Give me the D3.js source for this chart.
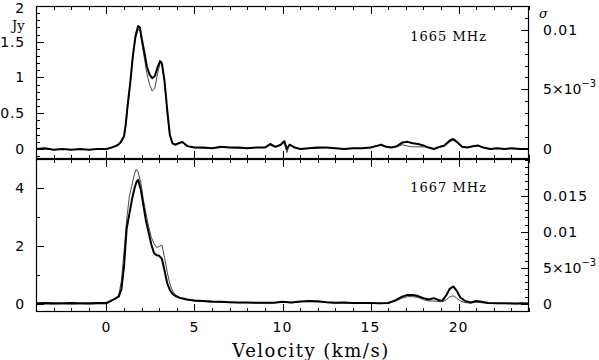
<!DOCTYPE html>
<html><head><meta charset="utf-8">
<script src="https://cdn.jsdelivr.net/npm/d3@7"></script>
<style>body{margin:0;background:#fff}svg{display:block}</style>
</head><body>
<svg id="c" width="599" height="360"></svg>
<script>
// ---- data ----
const velocity1665 = [-4,-3.5,-3,-2.5,-2,-1.5,-1,-0.5,0,0.3,0.6,0.8,1.0,1.1,1.2,1.35,1.5,1.65,1.8,1.9,2.0,2.15,2.3,2.45,2.6,2.75,2.9,3.05,3.15,3.3,3.45,3.6,3.75,3.9,4.1,4.3,4.6,5,5.5,6,6.5,7,7.5,8,8.5,9,9.3,9.6,9.9,10.1,10.25,10.4,10.7,11,11.5,12,12.5,13,13.5,14,14.5,15,15.3,15.6,15.9,16.2,16.5,16.8,17.1,17.4,17.7,18.0,18.3,18.6,18.9,19.2,19.5,19.7,19.9,20.2,20.5,20.8,21.1,21.4,21.8,22.2,22.6,23,23.5,24];
const thick1665 = [0.0,0.01,-0.01,0.0,-0.01,0.0,-0.01,0.0,0.0,0.02,0.05,0.09,0.18,0.35,0.6,0.92,1.3,1.58,1.72,1.70,1.55,1.36,1.15,1.04,0.99,1.02,1.14,1.23,1.2,0.95,0.55,0.2,0.08,0.06,0.08,0.1,0.04,0.02,0.02,0.01,0.03,0.02,0.02,0.01,0.02,0.02,0.07,0.03,0.06,0.11,0.0,0.06,0.02,0.0,0.01,0.02,0.02,0.01,0.0,0.01,0.01,0.02,0.04,0.06,0.03,0.02,0.04,0.09,0.1,0.08,0.07,0.05,0.02,0.0,0.03,0.05,0.12,0.14,0.1,0.03,0.02,0.04,0.05,0.02,0.0,0.01,0.0,0.01,0.0,0.0];
const thin1665 = [0.0,0.0,-0.01,0.0,-0.01,0.0,-0.01,0.0,0.0,0.02,0.04,0.08,0.16,0.32,0.57,0.9,1.28,1.55,1.67,1.66,1.5,1.28,1.05,0.9,0.81,0.85,1.05,1.2,1.19,0.93,0.52,0.19,0.08,0.06,0.08,0.09,0.04,0.02,0.01,0.01,0.02,0.02,0.01,0.01,0.02,0.02,0.05,0.03,0.05,0.1,-0.05,0.07,0.02,0.0,0.01,0.01,0.02,0.01,0.0,0.01,0.01,0.02,0.04,0.05,0.03,0.02,0.03,0.06,0.04,0.03,0.03,0.03,0.02,0.0,0.02,0.04,0.1,0.12,0.09,0.03,0.02,0.03,0.04,0.02,0.0,0.01,0.0,0.01,0.0,0.0];

const velocity1667 = [-4,-3.5,-3,-2.5,-2,-1.5,-1,-0.5,0,0.3,0.5,0.7,0.85,1.0,1.15,1.3,1.45,1.6,1.7,1.8,1.95,2.1,2.25,2.4,2.55,2.7,2.85,3.0,3.15,3.3,3.45,3.6,3.75,3.9,4.2,4.6,5,5.5,6,6.5,7,7.5,8,8.5,9,9.5,10,10.5,11,11.5,12,12.5,13,13.5,14,14.5,15,15.5,16,16.4,16.8,17.1,17.4,17.7,18.0,18.3,18.6,18.9,19.1,19.3,19.5,19.7,19.9,20.1,20.4,20.7,21.0,21.3,21.7,22.2,22.7,23.2,23.6,24];
const thick1667 = [0.02,0.03,0.02,0.02,0.03,0.02,0.02,0.03,0.03,0.12,0.18,0.25,0.5,1.3,2.6,3.1,3.6,4.0,4.2,4.28,3.95,3.4,2.85,2.45,2.05,1.76,1.68,1.66,1.55,1.15,0.72,0.48,0.35,0.28,0.2,0.15,0.12,0.1,0.08,0.07,0.06,0.05,0.05,0.04,0.04,0.04,0.07,0.05,0.08,0.1,0.09,0.06,0.04,0.05,0.03,0.03,0.03,0.02,0.03,0.12,0.25,0.31,0.31,0.27,0.2,0.15,0.2,0.12,0.12,0.3,0.52,0.6,0.45,0.22,0.09,0.05,0.1,0.07,0.03,0.02,0.02,0.01,0.02,0.01];
const thin1667 = [-0.01,0.0,-0.01,0.0,-0.01,0.0,-0.01,0.0,0.0,0.1,0.2,0.3,0.8,1.8,2.9,3.7,4.1,4.5,4.64,4.55,4.2,3.6,3.1,2.67,2.3,2.08,1.95,1.98,2.03,1.6,1.1,0.7,0.45,0.32,0.2,0.13,0.1,0.08,0.06,0.05,0.05,0.04,0.04,0.03,0.03,0.03,0.06,0.04,0.07,0.08,0.07,0.05,0.03,0.04,0.02,0.02,0.02,0.01,0.02,0.09,0.2,0.25,0.25,0.22,0.15,0.1,0.1,0.08,0.08,0.14,0.24,0.28,0.2,0.1,0.04,0.03,0.06,0.04,0.02,0.01,0.01,0.0,0.01,0.0];

const xTicks = [0,5,10,15,20];
const leftTicks1665 = [0,0.5,1,1.5,2];
const leftTickLabels1665 = ["0","0.5","1","1.5","2"];
const rightTicks1665 = [0,0.005,0.01];
const leftTicks1667 = [0,2,4];
const rightTicks1667 = [0,0.005,0.01,0.015];
const panelLabels = ["1665 MHz","1667 MHz"];

// ---- layout ----
const svg = d3.select("#c");
const L=36, R=529, T=6, M=159, B=312;
const x = d3.scaleLinear([-4,24],[L,R]);
const panels = [
  {y:d3.scaleLinear([-0.14,2],[M,T]), yr:d3.scaleLinear([-0.00084,0.012],[M,T]),
   v:velocity1665, thick:thick1665, thin:thin1665, lt:leftTicks1665, lminor:0.1, rt:rightTicks1665, label:panelLabels[0], top:T, bot:M, labelY:41, xlab:false},
  {y:d3.scaleLinear([-0.28,5],[B,M]), yr:d3.scaleLinear([-0.001126,0.0201],[B,M]),
   v:velocity1667, thick:thick1667, thin:thin1667, lt:leftTicks1667, lminor:1, rt:rightTicks1667, label:panelLabels[1], top:M, bot:B, labelY:192, xlab:true}
];
const tickFont = "DejaVu Sans, sans-serif";
const serif = "DejaVu Serif, serif";

panels.forEach((p,i)=>{
  const clipId = "clip"+i;
  svg.append("clipPath").attr("id",clipId).append("rect")
    .attr("x",L).attr("y",p.top).attr("width",R-L).attr("height",p.bot-p.top);
  const g = svg.append("g").attr("clip-path",`url(#${clipId})`);
  const line = (arr)=>d3.line().x((d,k)=>x(p.v[k])).y(d=>p.y(d))(arr);
  g.append("path").attr("d",line(p.thin)).attr("fill","none").attr("stroke","#333").attr("stroke-width",0.9);
  g.append("path").attr("d",line(p.thick)).attr("fill","none").attr("stroke","#000").attr("stroke-width",2).attr("stroke-linejoin","round");

  const ax = svg.append("g").attr("stroke","#000").attr("stroke-width",1);
  d3.range(-4,25,1).forEach(v=>{
    const major = xTicks.includes(v);
    const len = major?8:4;
    const xx = Math.round(x(v))+0.5;
    ax.append("line").attr("x1",xx).attr("x2",xx).attr("y1",p.top).attr("y2",p.top+len);
    ax.append("line").attr("x1",xx).attr("x2",xx).attr("y1",p.bot).attr("y2",p.bot-len);
  });
  const [y0,y1] = p.y.domain();
  const nMin = Math.ceil(y0/p.lminor), nMax = Math.floor(y1/p.lminor+1e-6);
  for(let n=nMin;n<=nMax;n++){
    const v = n*p.lminor;
    const major = p.lt.some(t=>Math.abs(t-v)<1e-9);
    const yy = Math.round(p.y(v))+0.5;
    ax.append("line").attr("x1",L).attr("x2",L+(major?8:4)).attr("y1",yy).attr("y2",yy);
  }
  const [r0,r1] = p.yr.domain();
  for(let n=Math.ceil(r0/0.001);n<=Math.floor(r1/0.001+1e-6);n++){
    const v = n*0.001;
    const major = p.rt.some(t=>Math.abs(t-v)<1e-9);
    const yy = Math.round(p.yr(v))+0.5;
    ax.append("line").attr("x1",R).attr("x2",R-(major?8:4)).attr("y1",yy).attr("y2",yy);
  }
  svg.append("rect").attr("x",L+0.5).attr("y",p.top+0.5).attr("width",R-L-1).attr("height",p.bot-p.top-1)
    .attr("fill","none").attr("stroke","#000").attr("stroke-width",1.2);

  p.lt.forEach((t,k)=>{
    const yy = Math.max(p.y(t)+5, 13);
    svg.append("text").attr("x",25).attr("y",yy).attr("text-anchor","end")
      .attr("font-family",tickFont).attr("font-size",14).attr("letter-spacing",0.8)
      .text(i===0?leftTickLabels1665[k]:String(t));
  });
  p.rt.forEach(t=>{
    const tx = svg.append("text").attr("x",543).attr("y",p.yr(t)+5)
      .attr("font-family",tickFont).attr("font-size",14);
    if(Math.abs(t-0.005)<1e-9){
      tx.append("tspan").text("5×10");
      tx.append("tspan").attr("dy",-7).attr("font-size",10).text("−3");
    } else tx.attr("letter-spacing",1).text(t===0?"0":String(t));
  });
  svg.append("text").attr("x",487).attr("y",p.labelY).attr("text-anchor","end")
    .attr("font-family",serif).attr("font-size",13).attr("letter-spacing",1).text(p.label);
  if(p.xlab){
    xTicks.forEach(t=>{
      svg.append("text").attr("x",x(t)).attr("y",332).attr("text-anchor","middle")
        .attr("font-family",tickFont).attr("font-size",14).attr("letter-spacing",1).text(String(t));
    });
  }
});
svg.append("text").attr("x",12).attr("y",30).attr("font-family",serif).attr("font-size",13).text("Jy");
svg.append("text").attr("x",539).attr("y",18).attr("font-family",serif).attr("font-style","italic").attr("font-size",13).text("σ");
svg.append("text").attr("x",311).attr("y",357).attr("text-anchor","middle").attr("font-family",serif)
  .attr("font-size",18).attr("letter-spacing",1.5).text("Velocity (km/s)");
</script>
</body></html>
